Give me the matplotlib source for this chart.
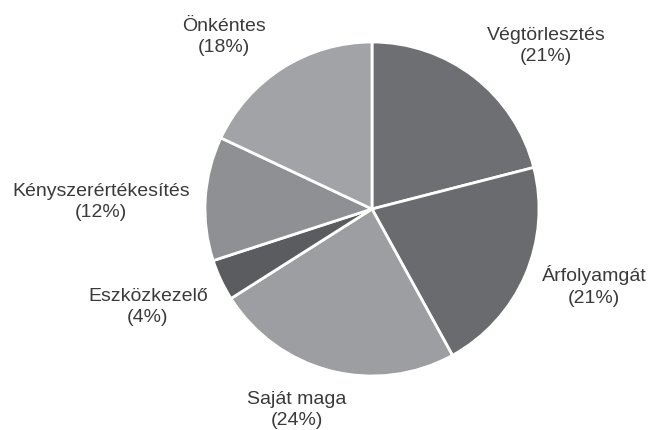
import matplotlib
matplotlib.use("Agg")
import matplotlib.pyplot as plt

plt.rcParams['font.family'] = ['Liberation Sans', 'DejaVu Sans']

categories = ["Végtörlesztés", "Árfolyamgát", "Saját maga", "Eszközkezelő",
              "Kényszerértékesítés", "Önkéntes"]
values = [21, 21, 24, 4, 12, 18]
colors = ["#6e6f72", "#6a6b6e", "#9d9ea1", "#5b5c5f", "#8f9093", "#a2a3a6"]

# label anchor positions in pixel space (x from left, y from top)
label_pos = [(546, 46), (594, 286), (297, 410), (148, 307), (101, 202), (224, 37)]

W, H = 652, 431
fig = plt.figure(figsize=(W / 100, H / 100), dpi=100)
ax = fig.add_axes([0, 0, 1, 1])

cx, cy, r = 372, H - 210, 167
ax.pie(values, colors=colors, startangle=90, counterclock=False,
       center=(cx, cy), radius=r,
       wedgeprops=dict(edgecolor='white', linewidth=2.0))
ax.set_xlim(0, W)
ax.set_ylim(0, H)
ax.set_aspect('equal')
ax.axis('off')

for name, v, (lx, ly) in zip(categories, values, label_pos):
    ax.text(lx, H - ly, f"{name}\n({v}%)", ha='center', va='center',
            fontsize=14, color='#3a3a3a', linespacing=1.38)

fig.savefig("out.png", dpi=100, facecolor='white')
